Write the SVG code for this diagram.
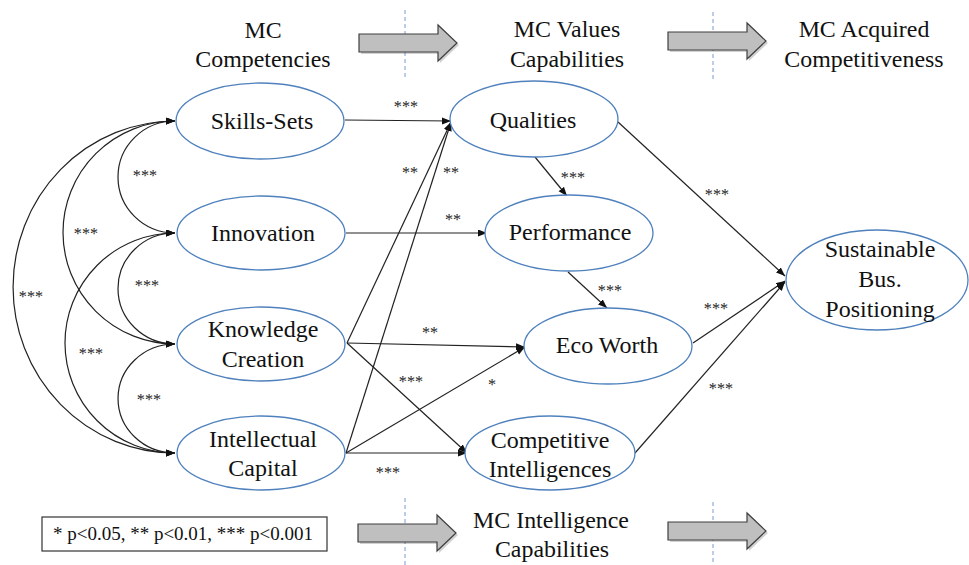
<svg xmlns="http://www.w3.org/2000/svg" xmlns:xlink="http://www.w3.org/1999/xlink" width="969" height="565" viewBox="0 0 969 565">
  <style>
    .node { fill: #ffffff; stroke: #4f81bd; stroke-width: 1.3; }
    .head { font-family: 'Liberation Serif', serif; font-size: 23.9px; fill: #111; text-anchor: middle; }
    .name { font-family: 'Times New Roman', serif; font-size: 24px; fill: #111; text-anchor: middle; }
    .sig { font-family: 'Liberation Serif', serif; font-size: 16.2px; fill: #222; text-anchor: middle; }
    .legend { font-family: 'Liberation Serif', serif; font-size: 19px; fill: #111; text-anchor: middle; }
    .edge { fill: none; stroke: #222; stroke-width: 1.2; marker-end: url(#tip); }
    .corr { fill: none; stroke: #222; stroke-width: 1.2; marker-start: url(#tip); marker-end: url(#tip); }
    .divider { stroke: #7b9bd0; stroke-width: 1; stroke-dasharray: 4 3; }
    .flow { fill: #bfbfbf; stroke: #3f3f3f; stroke-width: 1.2; }
    .flowShadow { fill: #000; opacity: 0.18; }
  </style>
  <defs>
    <marker id="tip" markerUnits="userSpaceOnUse" markerWidth="10" markerHeight="8" refX="9" refY="3.5" orient="auto-start-reverse">
      <path d="M0,0 L9,3.5 L0,7 z" fill="#111"/>
    </marker>
    <polygon id="blockArrow" points="0,9 79,9 79,0 98,18 79,36 79,27 0,27"/>
  </defs>

  <rect width="969" height="565" fill="#ffffff"/>

  <!-- stage dividers -->
  <g id="dividers">
    <line class="divider" x1="405" y1="10" x2="405" y2="78"/>
    <line class="divider" x1="713" y1="12" x2="713" y2="80"/>
    <line class="divider" x1="405" y1="498" x2="405" y2="565"/>
    <line class="divider" x1="713" y1="502" x2="713" y2="565"/>
  </g>

  <!-- stage flow arrows -->
  <g id="flow-arrows">
    <use xlink:href="#blockArrow" class="flowShadow" transform="translate(361,27)"/>
    <use xlink:href="#blockArrow" class="flow" transform="translate(359,25)"/>
    <use xlink:href="#blockArrow" class="flowShadow" transform="translate(670,25)"/>
    <use xlink:href="#blockArrow" class="flow" transform="translate(668,23)"/>
    <use xlink:href="#blockArrow" class="flowShadow" transform="translate(360,517)"/>
    <use xlink:href="#blockArrow" class="flow" transform="translate(358,515)"/>
    <use xlink:href="#blockArrow" class="flowShadow" transform="translate(670,515)"/>
    <use xlink:href="#blockArrow" class="flow" transform="translate(668,513)"/>
  </g>

  <!-- stage headings -->
  <g id="headings">
    <text class="head" x="263" y="38">MC</text>
    <text class="head" x="263" y="67">Competencies</text>
    <text class="head" x="567" y="37">MC Values</text>
    <text class="head" x="567" y="67">Capabilities</text>
    <text class="head" x="864" y="37">MC Acquired</text>
    <text class="head" x="864" y="67">Competitiveness</text>
    <text class="head" x="551" y="528">MC Intelligence</text>
    <text class="head" x="552" y="557">Capabilities</text>
  </g>

  <!-- connectors -->
  <g id="connectors">
    <!-- correlations among competencies -->
    <path class="corr" d="M175,121 A57,56 0 0 0 175,233"/>
    <path class="corr" d="M175,121 A112,111.5 0 0 0 175,344"/>
    <path class="corr" d="M175,121 A162,166 0 0 0 175,453"/>
    <path class="corr" d="M175,233 A57,55.5 0 0 0 175,344"/>
    <path class="corr" d="M175,233 A110,110 0 0 0 175,453"/>
    <path class="corr" d="M175,344 A57,54.5 0 0 0 175,453"/>

    <!-- structural paths -->
    <line class="edge" x1="345" y1="120" x2="451" y2="121"/>
    <line class="edge" x1="346" y1="233" x2="487" y2="233"/>
    <line class="edge" x1="347" y1="343" x2="451" y2="122"/>
    <line class="edge" x1="346" y1="453" x2="451" y2="122"/>
    <line class="edge" x1="347" y1="343" x2="525" y2="347"/>
    <line class="edge" x1="347" y1="343" x2="467" y2="453"/>
    <line class="edge" x1="346" y1="453" x2="525" y2="347"/>
    <line class="edge" x1="346" y1="453" x2="467" y2="453"/>
    <line class="edge" x1="535" y1="157" x2="567" y2="196"/>
    <line class="edge" x1="568" y1="272" x2="607" y2="308"/>
    <line class="edge" x1="618" y1="122" x2="785" y2="276"/>
    <line class="edge" x1="693" y1="343" x2="785" y2="281"/>
    <line class="edge" x1="635" y1="453" x2="785" y2="282"/>
  </g>

  <!-- significance labels -->
  <g id="significance">
    <text class="sig" x="145" y="181">***</text>
    <text class="sig" x="86" y="239">***</text>
    <text class="sig" x="31" y="302">***</text>
    <text class="sig" x="147" y="291">***</text>
    <text class="sig" x="91" y="359">***</text>
    <text class="sig" x="149" y="405">***</text>
    <text class="sig" x="406" y="112">***</text>
    <text class="sig" x="410" y="178">**</text>
    <text class="sig" x="451" y="178">**</text>
    <text class="sig" x="453" y="225">**</text>
    <text class="sig" x="430" y="338">**</text>
    <text class="sig" x="411" y="387">***</text>
    <text class="sig" x="492" y="390">*</text>
    <text class="sig" x="388" y="478">***</text>
    <text class="sig" x="573" y="183">***</text>
    <text class="sig" x="610" y="296">***</text>
    <text class="sig" x="717" y="200">***</text>
    <text class="sig" x="716" y="314">***</text>
    <text class="sig" x="721" y="394">***</text>
  </g>

  <!-- competencies -->
  <g id="skills-sets">
    <ellipse class="node" cx="260" cy="121" rx="84" ry="38"/>
    <text class="name" x="262" y="129">Skills-Sets</text>
  </g>
  <g id="innovation">
    <ellipse class="node" cx="261" cy="233" rx="84" ry="37"/>
    <text class="name" x="263" y="241">Innovation</text>
  </g>
  <g id="knowledge-creation">
    <ellipse class="node" cx="261" cy="344" rx="84" ry="37"/>
    <text class="name" x="263" y="337">Knowledge</text>
    <text class="name" x="263" y="367">Creation</text>
  </g>
  <g id="intellectual-capital">
    <ellipse class="node" cx="261" cy="453" rx="84" ry="37"/>
    <text class="name" x="263" y="447">Intellectual</text>
    <text class="name" x="263" y="476">Capital</text>
  </g>

  <!-- value capabilities -->
  <g id="qualities">
    <ellipse class="node" cx="534" cy="119" rx="84" ry="38"/>
    <text class="name" x="533" y="128">Qualities</text>
  </g>
  <g id="performance">
    <ellipse class="node" cx="569" cy="233" rx="84" ry="38"/>
    <text class="name" x="570" y="240">Performance</text>
  </g>
  <g id="eco-worth">
    <ellipse class="node" cx="608" cy="346" rx="84" ry="38"/>
    <text class="name" x="607" y="353">Eco Worth</text>
  </g>
  <g id="competitive-intelligences">
    <ellipse class="node" cx="550" cy="453" rx="85" ry="37"/>
    <text class="name" x="550" y="448">Competitive</text>
    <text class="name" x="550" y="477">Intelligences</text>
  </g>

  <!-- outcome -->
  <g id="sustainable-positioning">
    <ellipse class="node" cx="877" cy="280" rx="91" ry="50"/>
    <text class="name" x="880" y="257">Sustainable</text>
    <text class="name" x="880" y="287">Bus.</text>
    <text class="name" x="880" y="317">Positioning</text>
  </g>

  <!-- legend -->
  <g id="legend">
    <rect x="42" y="517" width="285" height="34" fill="#ffffff" stroke="#333" stroke-width="1.2"/>
    <text class="legend" x="183" y="540">* p&lt;0.05, ** p&lt;0.01, *** p&lt;0.001</text>
  </g>
</svg>
